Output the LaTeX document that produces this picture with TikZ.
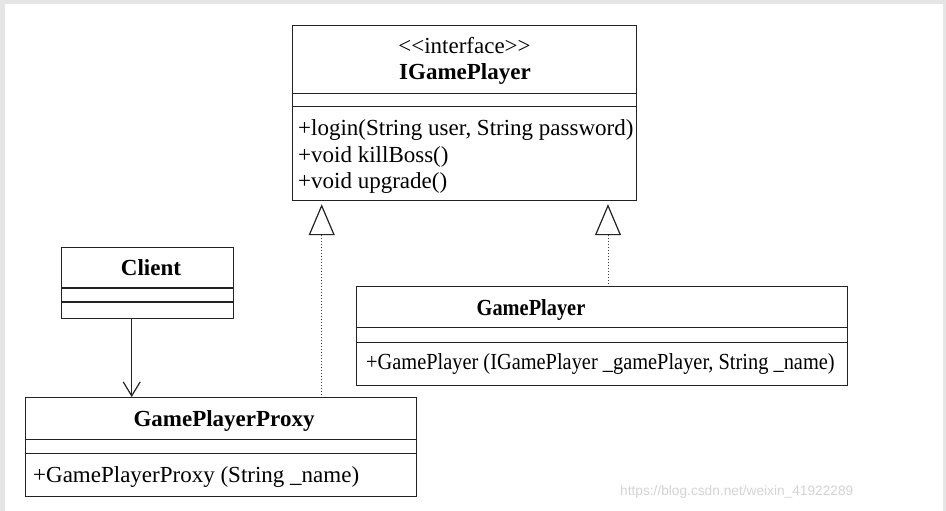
\documentclass[tikz,border=0pt]{standalone}
\usepackage{fontspec}
\setmainfont{Liberation Serif}
\newfontfamily\condfont[FakeStretch=0.886]{Liberation Serif}
\newfontfamily\wmfont{Liberation Sans}
\usetikzlibrary{arrows.meta}
\definecolor{linecol}{RGB}{35,35,35}
\definecolor{dotcol}{RGB}{60,60,60}
\definecolor{bordergray}{RGB}{229,229,229}
\definecolor{wmcol}{RGB}{212,212,212}
\begin{document}
\begin{tikzpicture}[x=1pt,y=-1pt,
  classbox/.style={draw=linecol, line width=1.2pt, inner sep=0pt, anchor=north west, fill=white},
  divider/.style={draw=linecol, line width=1.2pt},
  title/.style={font=\fontsize{23}{27}\selectfont\bfseries, anchor=base, inner sep=0pt, text=black},
  stereo/.style={font=\fontsize{23}{27}\selectfont, anchor=base, inner sep=0pt, text=black},
  member/.style={font=\fontsize{23}{27}\selectfont, anchor=base west, inner sep=0pt, text=black},
  condtitle/.style={title, font=\condfont\fontsize{23}{27}\selectfont\bfseries},
  condmember/.style={member, font=\condfont\fontsize{23}{27}\selectfont},
  realize/.style={draw=dotcol, line width=0.9pt, dash pattern=on 1pt off 2pt,
    -{Triangle[open, length=31pt, width=26pt, line width=1.2pt, color=linecol]},
    shorten >=3pt, shorten <=2pt},
  assoc/.style={draw=linecol, line width=1.2pt, -{Straight Barb[length=14pt, width=17pt, line width=1.2pt]}}
]
\useasboundingbox (0,0) rectangle (946,511);
\fill[bordergray] (0,0) rectangle (946,511);
\fill[white] (5,4) rectangle (943,511);

% IGamePlayer
\node[classbox, minimum width=344.5pt, minimum height=175pt] (ig) at (291.5,25) {};
\draw[divider] (291.5,93.3) -- (636,93.3);
\draw[divider] (291.5,106.7) -- (636,106.7);
\node[stereo] (igs) at (464.5,53.5) {<{}<interface>{}>};
\node[title] (igt) at (465,80) {IGamePlayer};
\node[member] (igm1) at (298,135.7) {+login(String user, String password)};
\node[member] (igm2) at (298,162.3) {+void killBoss()};
\node[member] (igm3) at (298,188.3) {+void upgrade()};

% Client
\node[classbox, minimum width=171.7pt, minimum height=71pt] (cl) at (61,246.7) {};
\draw[divider] (61,288) -- (232.7,288);
\draw[divider] (61,302) -- (232.7,302);
\node[title] (clt) at (151,275) {Client};

% GamePlayerProxy
\node[classbox, minimum width=391pt, minimum height=99pt] (px) at (24.5,397) {};
\draw[divider] (24.5,439.3) -- (415.5,439.3);
\draw[divider] (24.5,453.3) -- (415.5,453.3);
\node[title] (pxt) at (224,426.5) {GamePlayerProxy};
\node[member] (pxm) at (33,482) {+GamePlayerProxy (String \_name)};

% GamePlayer
\node[classbox, minimum width=490.5pt, minimum height=99pt] (gp) at (356,286) {};
\draw[divider] (356,327.3) -- (846.5,327.3);
\draw[divider] (356,342.3) -- (846.5,342.3);
\node[condtitle] (gpt) at (531,315) {GamePlayer};
\node[condmember] (gpm) at (366,369) {+GamePlayer (IGamePlayer \_gamePlayer, String \_name)};

% connectors
\coordinate (lx) at (321.7,0);
\coordinate (rx) at (608,0);
\coordinate (ax) at (131.7,0);
\draw[realize] (px.north -| lx) -- (ig.south -| lx);
\draw[realize] (gp.north -| rx) -- (ig.south -| rx);
\draw[assoc] (cl.south -| ax) -- (px.north -| ax);

% watermark
\node[anchor=base west, font=\wmfont\fontsize{13.7}{16}\selectfont, text=wmcol, inner sep=0pt] (wm) at (620,495) {https://blog.csdn.net/weixin\_41922289};
\end{tikzpicture}
\end{document}
